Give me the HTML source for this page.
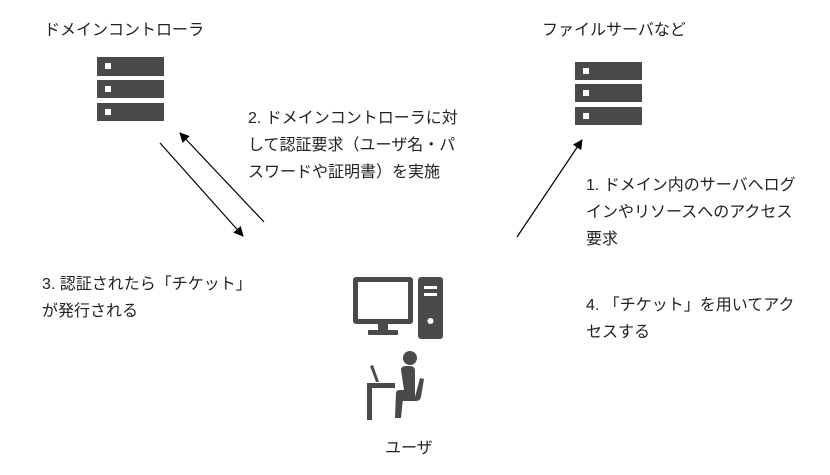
<!DOCTYPE html>
<html><head><meta charset="utf-8"><style>
body{margin:0;width:830px;height:475px;background:#fff;position:relative;overflow:hidden;font-family:"Liberation Sans","Noto Sans CJK JP",sans-serif;color:#222;}
.t{position:absolute;font-size:16px;line-height:27px;white-space:nowrap;}
</style></head><body>
<div class="t" style="left:44px;top:17px">ドメインコントローラ</div>
<div class="t" style="left:542px;top:17px">ファイルサーバなど</div>
<div class="t" style="left:248px;top:105px">2. ドメインコントローラに対<br>して認証要求（ユーザ名・パ<br>スワードや証明書）を実施</div>
<div class="t" style="left:586px;top:172px">1. ドメイン内のサーバへログ<br>インやリソースへのアクセス<br>要求</div>
<div class="t" style="left:42px;top:271px">3. 認証されたら「チケット」<br>が発行される</div>
<div class="t" style="left:586px;top:292px">4. 「チケット」を用いてアク<br>セスする</div>
<div class="t" style="left:385px;top:435px">ユーザ</div>
<svg width="830" height="475" style="position:absolute;left:0;top:0">
<defs><marker id="a" markerWidth="10" markerHeight="10" refX="9" refY="5" orient="auto" markerUnits="userSpaceOnUse"><path d="M0,0 L10,5 L0,10 z" fill="#000"/></marker></defs>
<g fill="#4a4a4a">
<rect x="97" y="57" width="67" height="19"/><rect x="97" y="80" width="67" height="18"/><rect x="97" y="103" width="67" height="18"/>
<rect x="575" y="62" width="67" height="18"/><rect x="575" y="84" width="67" height="18"/><rect x="575" y="107" width="67" height="18"/>
</g>
<g fill="#fff">
<rect x="105" y="63" width="6" height="6"/><rect x="105" y="86" width="6" height="6"/><rect x="105" y="109" width="6" height="6"/>
<rect x="583" y="68" width="6" height="6"/><rect x="583" y="90" width="6" height="6"/><rect x="583" y="113" width="6" height="6"/>
</g>
<g stroke="#000" stroke-width="1.2">
<line x1="160" y1="143" x2="243" y2="236" marker-end="url(#a)"/>
<line x1="264" y1="222" x2="180" y2="133" marker-end="url(#a)"/>
<line x1="517" y1="237" x2="582" y2="140" marker-end="url(#a)"/>
</g>
<g fill="#4a4a4a">
<rect x="353" y="277" width="60" height="47" rx="3"/>
<rect x="378" y="323" width="10" height="8"/>
<rect x="368" y="330" width="30" height="5" rx="1"/>
<rect x="418" y="277" width="25" height="62" rx="3"/>
</g>
<rect x="358" y="282" width="50" height="37" fill="#fff"/>
<g fill="#fff"><rect x="424" y="286" width="13" height="3"/><rect x="424" y="293" width="13" height="3"/><circle cx="430.5" cy="321" r="3"/></g>
<g fill="#4a4a4a">
<circle cx="410" cy="358" r="7"/>
<path d="M401,370 q0,-4 5,-4 h4 q5,0 5,5 v27 h-12 l-2,20 h-6 l1,-25 q0,-3 4,-3 h4 z"/>
<path d="M420,378 l4,1 l-3,18 q-1,4 -5,4 h-14 v-4 h13 z"/>
<rect x="367" y="383" width="28" height="5"/>
<rect x="367" y="383" width="5" height="37"/>
<path d="M370,366 l3,-1 l6,17 h-3 z"/>
</g>
</svg>
</body></html>
